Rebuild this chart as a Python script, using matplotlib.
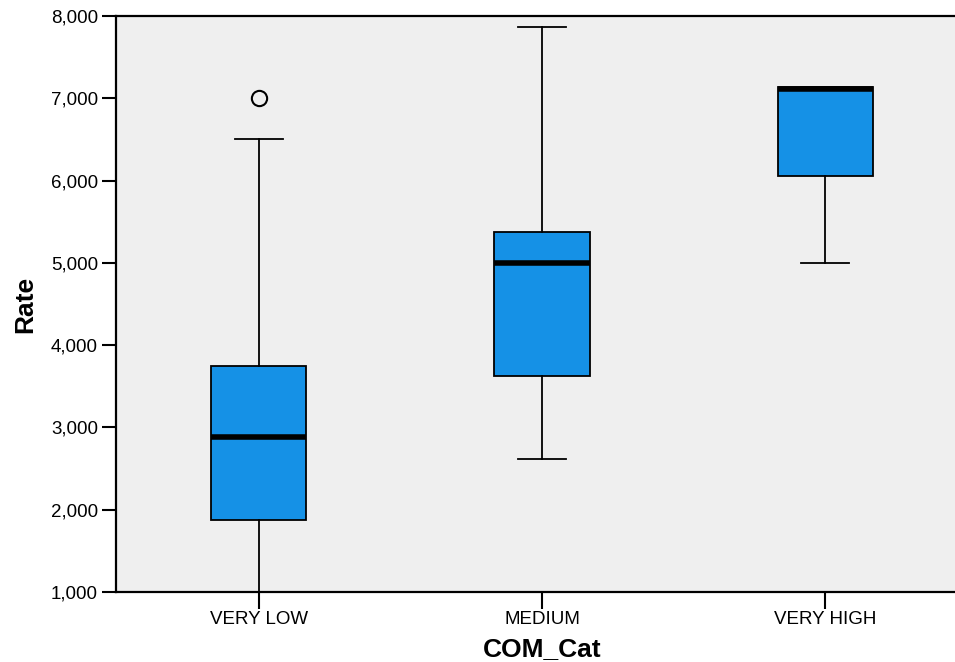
"""Box plot of Rate by COM_Cat"""
import matplotlib
matplotlib.use("Agg")
from matplotlib import pyplot as plt
from matplotlib.ticker import FuncFormatter

plt.rcParams['font.family'] = ['Liberation Sans', 'DejaVu Sans']

categories = ["VERY LOW", "MEDIUM", "VERY HIGH"]
# five number summaries: whisker low, q1, median, q3, whisker high
whislo = [1000, 2620, 5000]
q1 = [1880, 3625, 6060]
median = [2880, 5000, 7115]
q3 = [3750, 5370, 7140]
whishi = [6500, 7870, 7140]
fliers = [[7000], [], []]


def build_stats():
    """Build bxp stats list from the arrays"""
    stats = []
    for i, name in enumerate(categories):
        stats.append({
            'label': name,
            'whislo': whislo[i],
            'q1': q1[i],
            'med': median[i],
            'q3': q3[i],
            'whishi': whishi[i],
            'fliers': fliers[i],
        })
    return stats


def main():
    """Draw the chart"""
    fig = plt.figure(figsize=(9.55, 6.62), dpi=100)
    ax = fig.add_axes([116 / 955, 70 / 662, 852 / 955, 576 / 662])
    ax.set_facecolor('#efefef')

    ax.bxp(build_stats(), positions=[0, 1, 2], widths=0.336,
           patch_artist=True,
           boxprops=dict(facecolor='#1591e6', edgecolor='black', linewidth=1.3),
           medianprops=dict(color='black', linewidth=4, solid_capstyle='butt'),
           whiskerprops=dict(color='black', linewidth=1.3),
           capprops=dict(color='black', linewidth=1.3),
           capwidths=0.17,
           flierprops=dict(marker='o', markersize=11, markerfacecolor='none',
                           markeredgecolor='black', markeredgewidth=1.5))

    ax.set_xlim(-0.505, 2.505)
    ax.set_ylim(1000, 8000)
    ax.set_yticks(range(1000, 9000, 1000))
    ax.yaxis.set_major_formatter(FuncFormatter(lambda v, p: f"{int(v):,}"))
    ax.set_xticks([0, 1, 2])
    ax.set_xticklabels(categories)

    for side in ['left', 'bottom', 'top']:
        ax.spines[side].set_linewidth(1.6)
    ax.spines['right'].set_visible(False)
    ax.tick_params(axis='y', length=10, width=1.5, labelsize=13.5, pad=3)
    ax.tick_params(axis='x', length=12, width=1.5, labelsize=13.5, pad=2)

    ax.set_xlabel('COM_Cat', fontsize=19, fontweight='bold', labelpad=6)
    ax.set_ylabel('Rate', fontsize=19, fontweight='bold', labelpad=10)

    fig.savefig('out.png', dpi=100)


if __name__ == '__main__':
    main()
